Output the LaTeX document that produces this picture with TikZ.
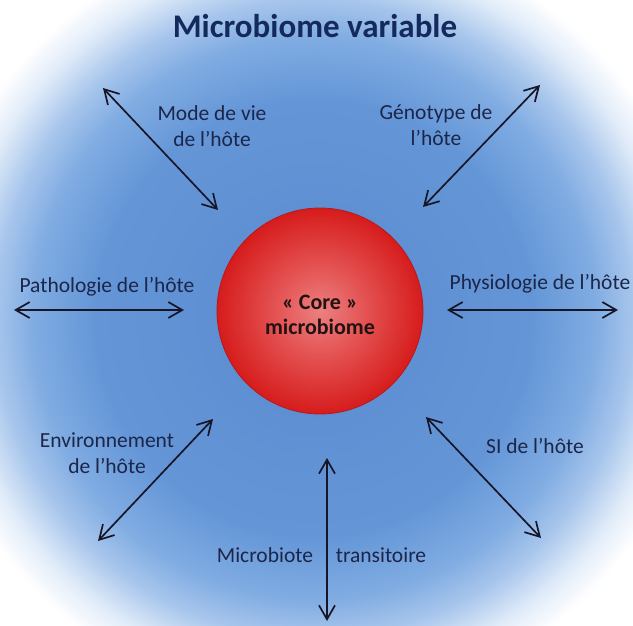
\documentclass[tikz,border=0pt]{standalone}
\usepackage{fontspec}
\setmainfont{Carlito}
\usetikzlibrary{arrows.meta}
\definecolor{bgA}{RGB}{88,138,207}
\definecolor{bgB}{RGB}{100,150,215}
\definecolor{bgC}{RGB}{128,172,226}
\definecolor{bgD}{RGB}{168,198,236}
\definecolor{bgE}{RGB}{225,236,249}
\definecolor{sphA}{RGB}{236,128,128}
\definecolor{sphB}{RGB}{228,82,82}
\definecolor{sphC}{RGB}{214,28,28}
\definecolor{sphRim}{RGB}{185,25,30}
\definecolor{titlecol}{RGB}{20,42,92}
\definecolor{lblcol}{RGB}{28,38,74}
\definecolor{arrowcol}{RGB}{22,22,40}
\definecolor{coretext}{RGB}{35,18,18}
\pgfdeclareradialshading{bgshade}{\pgfpoint{0bp}{0bp}}{color(0bp)=(bgA); color(14bp)=(bgB); color(18bp)=(bgC); color(20.5bp)=(bgD); color(23bp)=(bgE); color(25bp)=(white); color(50bp)=(white)}
\pgfdeclareradialshading{sphereshade}{\pgfpoint{0bp}{0bp}}{color(0bp)=(sphA); color(11bp)=(sphB); color(25bp)=(sphC); color(50bp)=(sphC)}
\tikzset{
  lbl/.style={text=lblcol, font=\fontsize{21.5}{26}\selectfont, align=center, inner sep=0pt, anchor=base},
  biarrow/.style={{Straight Barb[length=14pt,width=16pt]}-{Straight Barb[length=14pt,width=16pt]}, line width=1.7pt, draw=arrowcol},
  coreball/.style={circle, minimum size=206pt, inner sep=0pt, shading=sphereshade, draw=sphRim, line width=0.8pt},
  coretxt/.style={text=coretext, font=\fontsize{22}{25}\bfseries\selectfont, align=center, inner sep=0pt}
}
\begin{document}
\begin{tikzpicture}[x=1pt,y=-1pt]
\useasboundingbox (0,0) rectangle (633,625);
\fill[white] (0,0) rectangle (633,625);
\begin{scope}
  \clip (0,0) rectangle (633,625);
  \shade[shading=bgshade] (314,318) circle (390);
\end{scope}

\node[text=titlecol, font=\fontsize{33}{40}\bfseries\selectfont, inner sep=0pt, anchor=base] (title) at (315,37) {Microbiome variable};

\node[coreball] (core) at (320,311) {};
\node[coretxt] (coretext) at ([yshift=-4pt]core.center) {« Core »\\microbiome};

% arrow end points
\coordinate (m1) at (103,88);   \coordinate (m2) at (218,210);
\coordinate (g1) at (540,85);   \coordinate (g2) at (423,207);
\coordinate (p1) at (14,310);   \coordinate (p2) at (184,310);
\coordinate (q1) at (447,310);  \coordinate (q2) at (618,310);
\coordinate (e1) at (98,541);   \coordinate (e2) at (213,419);
\coordinate (s1) at (426,417);  \coordinate (s2) at (541,538);
\coordinate (t1) at (327,458);  \coordinate (t2) at (327,621);

\draw[biarrow] (m1) -- (m2);
\draw[biarrow] (g1) -- (g2);
\draw[biarrow] (p1) -- (p2);
\draw[biarrow] (q1) -- (q2);
\draw[biarrow] (e1) -- (e2);
\draw[biarrow] (s1) -- (s2);
\draw[biarrow] (t1) -- (t2);

\node[lbl] (mode) at (212,146) {Mode de vie\\de l’hôte};
\node[lbl] (geno) at (436,145) {Génotype de\\l’hôte};
\node[lbl] (patho) at (107,292) {Pathologie de l’hôte};
\node[lbl] (physio) at (540,289) {Physiologie de l’hôte};
\node[lbl] (env) at (107,473) {Environnement\\de l’hôte};
\node[lbl] (si) at (535,453) {SI de l’hôte};
\node[lbl] (micro) at (265,562) {Microbiote};
\node[lbl] (trans) at (381,562) {transitoire};
\end{tikzpicture}
\end{document}
